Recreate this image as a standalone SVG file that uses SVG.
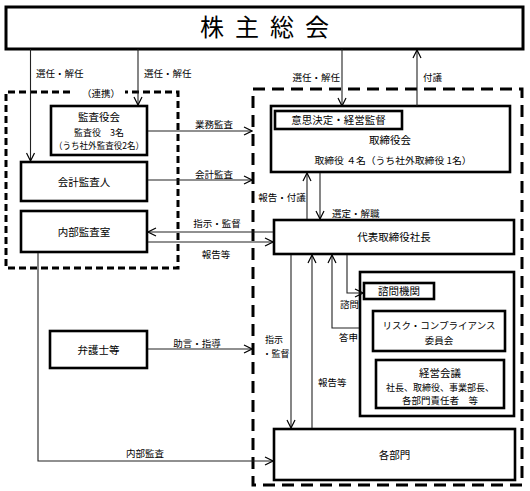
<svg xmlns="http://www.w3.org/2000/svg" width="530" height="491" viewBox="0 0 530 491">
<defs>
<style>
text{font-family:"Noto Sans CJK JP","Noto Sans CJK SC",sans-serif;fill:#000}
.t{font-size:10.5px;text-anchor:middle}
.s{font-size:9.5px}
.sm{font-size:9.5px;text-anchor:middle}
.xs{font-size:9px;text-anchor:middle}
.box{fill:#fff;stroke:#000;stroke-width:2.6}
.ln{fill:none;stroke:#222;stroke-width:1.1}
.arr{marker-end:url(#ah)}
</style>
<marker id="ah" markerUnits="userSpaceOnUse" markerWidth="10" markerHeight="10" viewBox="0 0 10 10" refX="9" refY="5" orient="auto">
<path d="M1,1 L9,5 L1,9" fill="none" stroke="#000" stroke-width="1.2"/>
</marker>
</defs>
<rect width="530" height="491" fill="#fff"/>

<!-- dashed group boxes -->
<g id="audit-group">
<path d="M70,92 H6 V268 H178 V92 H125" fill="none" stroke="#000" stroke-width="3" stroke-dasharray="7,4"/>
<text class="s" x="82" y="96.5">（連携）</text>
</g>
<g id="exec-group">
<rect x="253" y="89" width="269" height="396" fill="none" stroke="#000" stroke-width="3" stroke-dasharray="12,7"/>
</g>

<g id="shareholders">
<rect x="6" y="7" width="517" height="42" fill="#fff" stroke="#000" stroke-width="3"/>
<text x="270" y="36" style="font-size:24px;text-anchor:middle;letter-spacing:11px">株主総会</text>
</g>

<g id="kansayakukai">
<rect class="box" x="51" y="106" width="96" height="49"/>
<text class="t" x="99" y="120.5">監査役会</text>
<text class="xs" x="99" y="135.5">監査役　3名</text>
<text class="xs" x="99" y="148.5" textLength="90" lengthAdjust="spacingAndGlyphs">（うち社外監査役2名）</text>
</g>

<g id="kaikei">
<rect class="box" x="21" y="162" width="126" height="39"/>
<text class="t" x="84" y="185.5">会計監査人</text>
</g>

<g id="naibu">
<rect class="box" x="21" y="211" width="126" height="41"/>
<text class="t" x="84" y="235.5">内部監査室</text>
</g>

<g id="bengoshi">
<rect class="box" x="50" y="331" width="97" height="37"/>
<text class="t" x="98.5" y="353.5">弁護士等</text>
</g>

<g id="torishimariyakukai">
<rect class="box" x="271" y="106" width="239" height="66"/>
<rect class="box" x="275" y="111" width="127" height="18"/>
<text class="t" x="338.5" y="123.5">意思決定・経営監督</text>
<text class="t" x="390" y="143.5">取締役会</text>
<text class="sm" x="393" y="163.5" textLength="157" lengthAdjust="spacingAndGlyphs">取締役 ４名（うち社外取締役 1名）</text>
</g>

<g id="shacho">
<rect class="box" x="274" y="220" width="240" height="34"/>
<text class="t" x="394" y="240.5">代表取締役社長</text>
</g>

<g id="shimon">
<rect class="box" x="360" y="272" width="154" height="144"/>
<rect class="box" x="364" y="283" width="70" height="16"/>
<text class="t" x="399" y="294.5">諮問機関</text>
</g>

<g id="risk">
<rect class="box" x="373" y="311" width="132" height="40"/>
<text class="sm" x="439" y="328.5">リスク・コンプライアンス</text>
<text class="sm" x="439" y="343.5">委員会</text>
</g>

<g id="keiei">
<rect class="box" x="376" y="360" width="128" height="48"/>
<text class="t" x="440" y="376.5">経営会議</text>
<text class="sm" x="440" y="391" textLength="108" lengthAdjust="spacingAndGlyphs">社長、取締役、事業部長、</text>
<text class="sm" x="440" y="404">各部門責任者　等</text>
</g>

<g id="kakubumon">
<rect class="box" x="274" y="429" width="241" height="51"/>
<text class="t" x="394.5" y="458.5">各部門</text>
</g>

<g id="connectors">
<path class="ln arr" d="M30.5,49 V161"/>
<path class="ln arr" d="M138,49 V105"/>
<path class="ln arr" d="M342,49 V106"/>
<path class="ln arr" d="M417,106 V50"/>
<path class="ln arr" d="M148,131 H252"/>
<path class="ln arr" d="M148,180 H252"/>
<path class="ln arr" d="M273,232 H148"/>
<path class="ln arr" d="M148,242 H273"/>
<path class="ln arr" d="M307,219 V173"/>
<path class="ln arr" d="M320,173 V219"/>
<path class="ln arr" d="M148,349 H252"/>
<path class="ln arr" d="M38,253 V461 H273"/>
<path class="ln arr" d="M291,255 V428"/>
<path class="ln arr" d="M312,428 V255"/>
<path class="ln arr" d="M359,328 H332 V255"/>
<path class="ln arr" d="M347,255 V293 H363"/>

<text class="s" x="36" y="77">選任・解任</text>
<text class="s" x="144" y="77">選任・解任</text>
<text class="s" x="340" y="80.5" text-anchor="end">選任・解任</text>
<text class="s" x="423" y="80.5">付議</text>
<text class="sm" x="214" y="127.5">業務監査</text>
<text class="sm" x="214" y="177.5">会計監査</text>
<text class="sm" x="217" y="226.5">指示・監督</text>
<text class="sm" x="216" y="257.5">報告等</text>
<text class="sm" x="282" y="200.5">報告・付議</text>
<text class="s" x="332" y="216.5">選定・解職</text>
<text class="sm" x="197" y="346.5">助言・指導</text>
<text class="sm" x="145" y="456.5">内部監査</text>
<text class="xs" x="274" y="343" text-anchor="middle">指示</text>
<text class="xs" x="276" y="356.5" text-anchor="middle">・監督</text>
<text class="s" x="318" y="385.5">報告等</text>
<text class="s" x="340" y="307.5">諮問</text>
<text class="s" x="339" y="340.5">答申</text>
</g>
</svg>
